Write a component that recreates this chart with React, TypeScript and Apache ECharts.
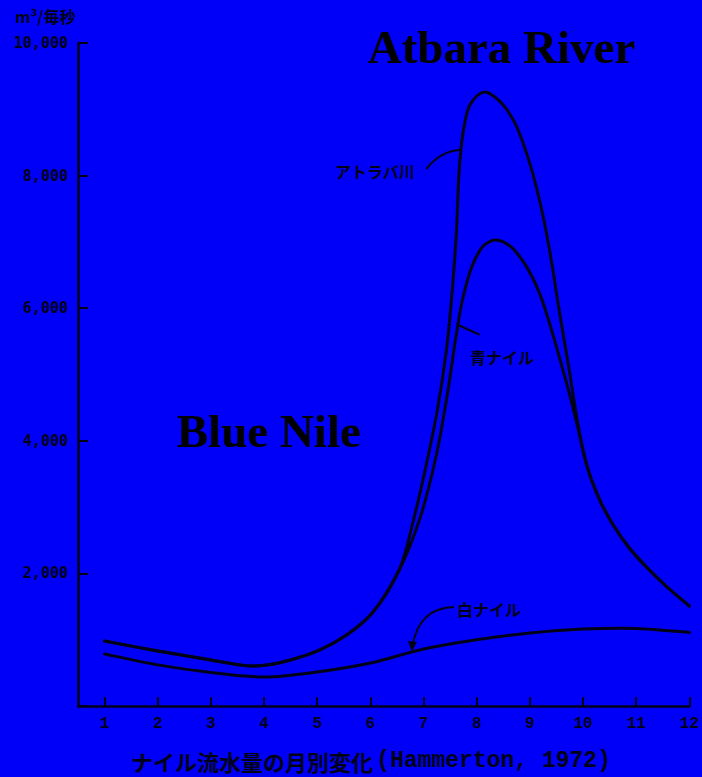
import React, { useEffect, useRef } from "react";
import * as echarts from "echarts";

// ---- data ----
const monthTicks = [1, 2, 3, 4, 5, 6, 7, 8, 9, 10, 11, 12];

// アトラバ川 (top curve: White + Blue Nile + Atbara)
const atbaraMonths = [1, 2, 3, 3.75, 4.05, 4.5, 5.05, 5.55, 6.03, 6.54, 6.81, 7.05, 7.26, 7.43, 7.54, 7.62, 7.67, 7.75, 7.88, 8.14, 8.43, 8.71, 8.95, 9.18, 9.37, 9.55, 9.74, 9.89, 10.02, 10.16, 10.34, 10.59, 10.87, 11.21, 11.58, 12];
const atbaraValues = [980, 830, 694, 603, 618, 694, 845, 1070, 1400, 2050, 2805, 3634, 4464, 5368, 6273, 7178, 8083, 8686, 9078, 9259, 9123, 8807, 8309, 7632, 6877, 5972, 5067, 4313, 3785, 3408, 3061, 2699, 2383, 2081, 1795, 1508];

// 青ナイル (middle curve: White + Blue Nile)
const blueMonths = [1, 2, 3, 3.75, 4.05, 4.5, 5.05, 5.55, 6.03, 6.54, 6.92, 7.22, 7.43, 7.6, 7.73, 7.92, 8.14, 8.37, 8.65, 8.93, 9.18, 9.38, 9.57, 9.74, 9.89, 10.02, 10.16, 10.34, 10.59, 10.87, 11.21, 11.58, 12];
const blueValues = [980, 830, 694, 603, 618, 694, 845, 1070, 1400, 2050, 2800, 3710, 4615, 5520, 6120, 6650, 6950, 7030, 6922, 6635, 6228, 5745, 5218, 4720, 4238, 3785, 3408, 3061, 2699, 2383, 2081, 1795, 1508];

// 白ナイル (bottom curve)
const whiteMonths = [1, 2, 3, 4, 5, 6, 7, 8, 9, 10, 11, 12];
const whiteValues = [785, 620, 505, 437, 513, 648, 860, 1000, 1100, 1160, 1170, 1110];

const pairs = (xs: number[], ys: number[]) => xs.map((x, i) => [x, ys[i]]);

const BG = "#0000f8";
const INK = "#000018";

// centripetal Catmull-Rom spline through pixel points -> SVG path data
function splinePath(p: number[][]): string {
  const n = p.length;
  let d = `M${p[0][0]},${p[0][1]}`;
  const dist = (a: number[], b: number[]) => Math.sqrt(Math.hypot(b[0] - a[0], b[1] - a[1])) || 1e-6;
  for (let i = 0; i < n - 1; i++) {
    const p0 = p[i - 1] || p[i];
    const p1 = p[i];
    const p2 = p[i + 1];
    const p3 = p[i + 2] || p[i + 1];
    const d1 = i === 0 ? dist(p1, p2) : dist(p0, p1);
    const d2 = dist(p1, p2);
    const d3 = i + 2 >= n ? dist(p1, p2) : dist(p2, p3);
    const c1 = [0, 1].map(
      (k) => (d1 * d1 * p2[k] - d2 * d2 * p0[k] + (2 * d1 * d1 + 3 * d1 * d2 + d2 * d2) * p1[k]) / (3 * d1 * (d1 + d2))
    );
    const c2 = [0, 1].map(
      (k) => (d3 * d3 * p1[k] - d2 * d2 * p3[k] + (2 * d3 * d3 + 3 * d3 * d2 + d2 * d2) * p2[k]) / (3 * d3 * (d3 + d2))
    );
    d += ` C${c1[0]},${c1[1]} ${c2[0]},${c2[1]} ${p2[0]},${p2[1]}`;
  }
  return d;
}

function curveSeries(name: string, xs: number[], ys: number[]) {
  return {
    name,
    type: "custom",
    coordinateSystem: "cartesian2d",
    data: pairs(xs, ys),
    encode: { x: 0, y: 1 },
    z: 3,
    renderItem: (params: any, api: any) => {
      if (params.dataIndex !== 0) return null;
      const pts = xs.map((x, i) => api.coord([x, ys[i]]));
      return {
        type: "path",
        shape: { pathData: splinePath(pts) },
        style: { stroke: INK, fill: "none", lineWidth: 3, lineJoin: "round", lineCap: "round" },
      };
    },
  };
}

export default function App() {
  const ref = useRef<HTMLDivElement>(null);
  useEffect(() => {
    if (!ref.current) return;
    const chart = echarts.init(ref.current, null, { renderer: "svg" });
    chart.setOption({
      animation: false,
      backgroundColor: BG,
      grid: { left: 78, right: 12, top: 43, bottom: 71, containLabel: false },
      xAxis: {
        type: "value",
        min: 0.5,
        max: 12,
        splitLine: { show: false },
        axisLine: { lineStyle: { color: INK, width: 2.5 } },
        axisTick: { inside: true, length: 9, customValues: monthTicks, lineStyle: { color: INK, width: 2 } },
        axisLabel: {
          customValues: monthTicks,
          margin: 10,
          color: INK,
          fontFamily: "Liberation Mono",
          fontWeight: "bold",
          fontSize: 16,
        },
      },
      yAxis: {
        type: "value",
        min: 0,
        max: 10000,
        interval: 2000,
        splitLine: { show: false },
        axisLine: { show: true, lineStyle: { color: INK, width: 2.5 } },
        axisTick: { show: true, inside: true, length: 10, lineStyle: { color: INK, width: 2 } },
        axisLabel: {
          margin: 10,
          color: INK,
          fontFamily: "DejaVu Sans Mono",
          fontWeight: "bold",
          fontSize: 15,
          formatter: (v: number) => (v === 0 ? "" : v.toLocaleString("en-US")),
        },
      },
      series: [
        curveSeries("アトラバ川", atbaraMonths, atbaraValues),
        curveSeries("青ナイル", blueMonths, blueValues),
        curveSeries("白ナイル", whiteMonths, whiteValues),
      ],
    });

    const px = (m: number, v: number) => chart.convertToPixel({ gridIndex: 0 }, [m, v]) as number[];
    const a = px(7.69, 8385);
    const b = px(7.64, 5750);
    const w = px(6.78, 815);
    const jp = "Noto Sans CJK JP";

    chart.setOption({
      graphic: [
        { type: "text", left: 15, top: 8, style: { text: "m³/毎秒", fill: INK, font: `bold 16px ${jp}` } },
        { type: "text", x: 368, y: 47, style: { text: "Atbara River", fill: "#000", font: "bold 47px 'Liberation Serif'", verticalAlign: "middle" } },
        { type: "text", x: 177, y: 431, style: { text: "Blue Nile", fill: "#000", font: "bold 47px 'Liberation Serif'", verticalAlign: "middle" } },
        // アトラバ川 label + pointer
        { type: "text", x: 335, y: 171, style: { text: "アトラバ川", fill: INK, font: `bold 16px ${jp}`, verticalAlign: "middle" } },
        { type: "bezierCurve", shape: { x1: a[0] - 34, y1: a[1] + 19, cpx1: a[0] - 20, cpy1: a[1] + 1, x2: a[0], y2: a[1] }, style: { stroke: INK, lineWidth: 2, fill: "none" } },
        // 青ナイル label + pointer
        { type: "text", x: 470, y: 357, style: { text: "青ナイル", fill: INK, font: `bold 16px ${jp}`, verticalAlign: "middle" } },
        { type: "line", shape: { x1: b[0], y1: b[1], x2: b[0] + 22, y2: b[1] + 10 }, style: { stroke: INK, lineWidth: 2 } },
        // 白ナイル label + arrow
        { type: "text", x: 457, y: 609, style: { text: "白ナイル", fill: INK, font: `bold 16px ${jp}`, verticalAlign: "middle" } },
        { type: "bezierCurve", shape: { x1: w[0] + 42, y1: w[1] - 45, cpx1: w[0] + 8, cpy1: w[1] - 44, x2: w[0] + 1, y2: w[1] - 8 }, style: { stroke: INK, lineWidth: 2, fill: "none" } },
        { type: "polygon", shape: { points: [[w[0] - 4, w[1] - 11], [w[0] + 5, w[1] - 10], [w[0], w[1]]] }, style: { fill: INK } },
        // caption
        {
          type: "text",
          x: 131,
          y: 761,
          style: {
            text: "{j|ナイル流水量の月別変化} {l|(Hammerton, 1972)}",
            verticalAlign: "middle",
            rich: {
              j: { font: `bold 22px ${jp}`, fill: INK, verticalAlign: "middle" },
              l: { font: "bold 23px 'Liberation Mono'", fill: INK, verticalAlign: "middle" },
            },
          },
        },
      ],
    });
    return () => chart.dispose();
  }, []);
  return <div ref={ref} style={{ position: "fixed", left: 0, top: 0, width: 702, height: 777, background: BG }} />;
}
